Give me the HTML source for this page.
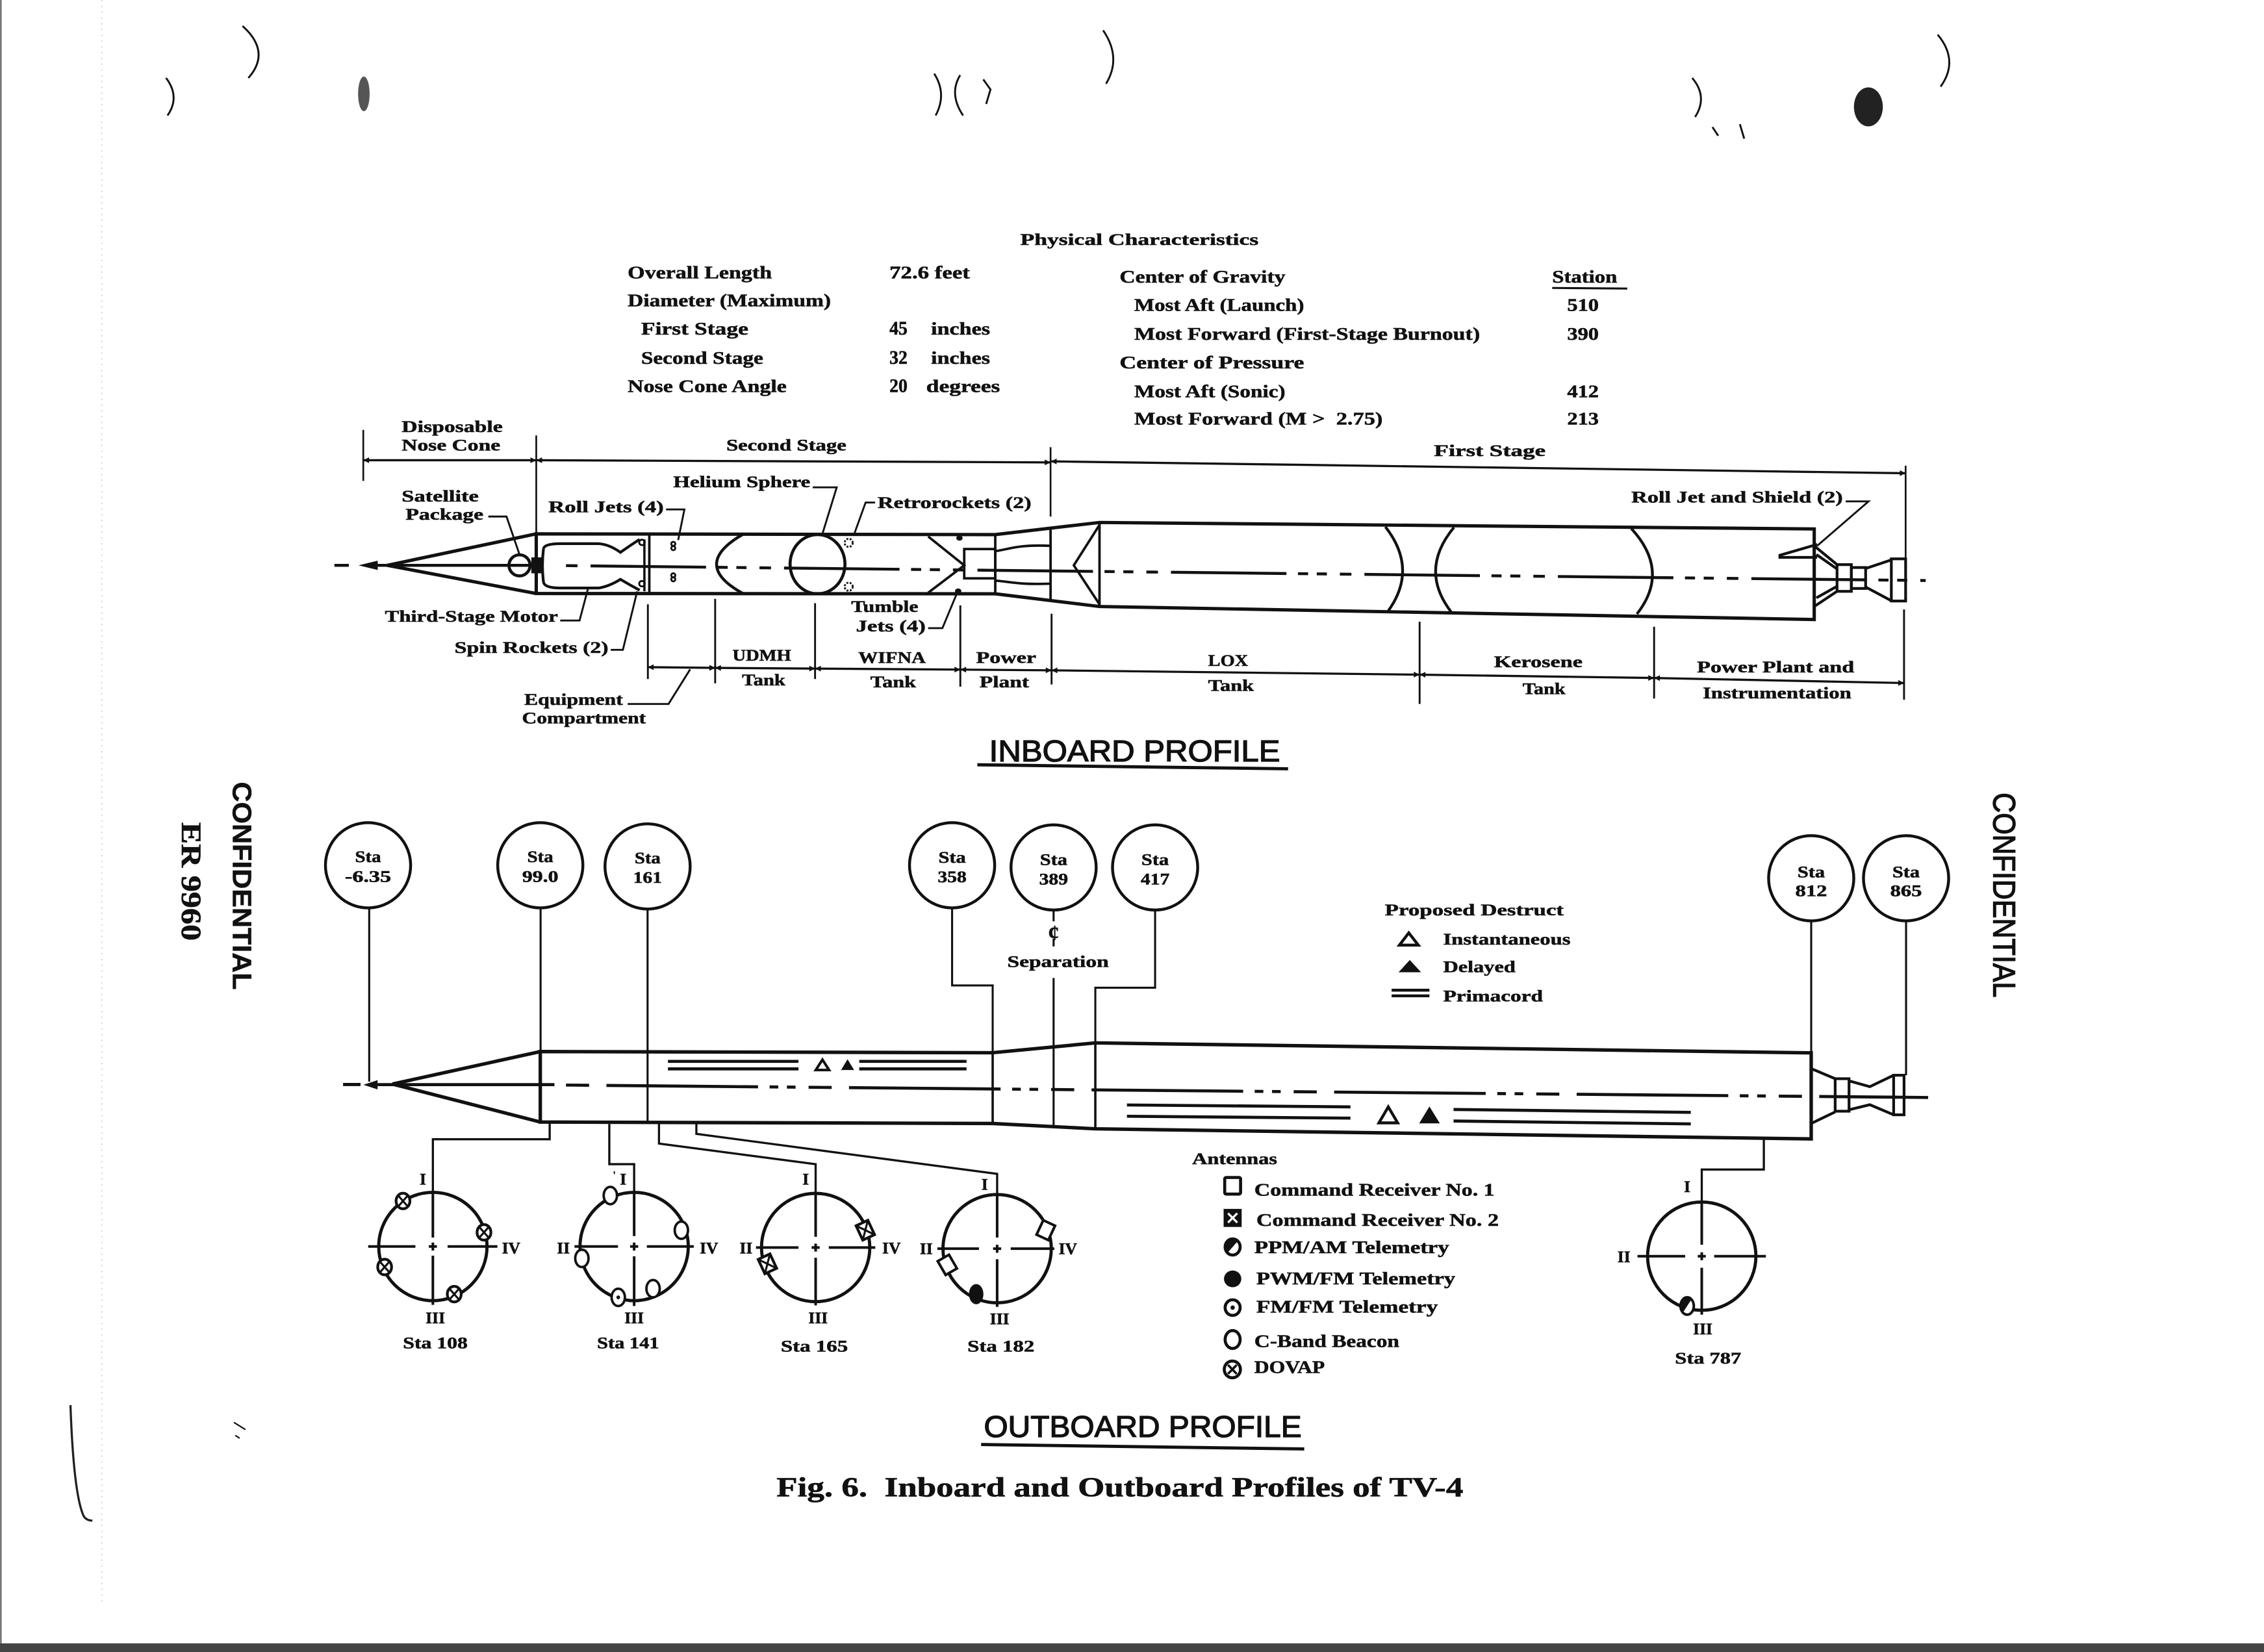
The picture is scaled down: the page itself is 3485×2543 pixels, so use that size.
<!DOCTYPE html>
<html><head><meta charset="utf-8"><style>
html,body{margin:0;padding:0;background:#fff}
svg{display:block}
text{font-family:"Liberation Serif","DejaVu Serif",serif;font-weight:bold;fill:#111;stroke:#111;stroke-width:0.25}
.a{font-size:12.5px}
.b{font-size:11.5px}
.c{font-size:11.5px}
.r{font-size:11.5px;text-anchor:middle}
.ln{stroke:#111;fill:none;stroke-linecap:butt}
</style></head><body>
<svg xmlns="http://www.w3.org/2000/svg" width="3485" height="2543" viewBox="0 0 1568 1144" preserveAspectRatio="none">
<defs>
<marker id="ah" viewBox="0 0 10 10" refX="10" refY="5" markerWidth="7" markerHeight="4" orient="auto-start-reverse" markerUnits="userSpaceOnUse"><path d="M0,0 L10,5 L0,10 z" fill="#111"/></marker>
</defs>
<rect width="1568" height="1144" fill="#fff"/>

<!-- scan artifacts -->
<rect x="0" y="0" width="1.2" height="1144" fill="#777"/>
<line x1="70.5" y1="0" x2="70.5" y2="1110" stroke="#c8c8c8" stroke-width="0.6" stroke-dasharray="1,3"/>
<rect x="0" y="1138" width="1568" height="6" fill="#444"/>
<g class="ln" stroke-width="1.3" stroke="#444">
<path d="M168,18 Q188,36 172,54"/>
<path d="M115,54 Q125,67 116,80"/>
<path d="M764,21 Q777,40 766,58"/>
<path d="M647,51 Q656,65 648,80"/>
<path d="M665,52 Q657,65 667,80"/>
<path d="M681,55 L686,62 L683,72"/>
<path d="M1172,54 Q1183,67 1174,81"/>
<path d="M1342,24 Q1357,42 1344,60"/>
<path d="M1186,88 L1190,94 M1205,86 L1208,96"/>
<path d="M48.8,973 Q51,1035 58,1050 Q60,1053 64,1053" stroke="#222" stroke-width="1.5"/>
<path d="M162,985 L170,990 M163,994 L166,996" stroke-width="1"/>
</g>
<ellipse cx="252" cy="65" rx="4" ry="12" fill="#555"/>
<ellipse cx="1294" cy="74" rx="10" ry="13.5" fill="#222"/>

<!-- side texts -->
<text transform="translate(161.3,541.4) rotate(90)" style="font-family:'Liberation Sans',sans-serif;font-weight:bold;font-size:18.5px" textLength="144" lengthAdjust="spacingAndGlyphs">CONFIDENTIAL</text>
<text transform="translate(126,569.4) rotate(90)" style="font-size:19.5px" textLength="82" lengthAdjust="spacingAndGlyphs">ER 9960</text>
<text transform="translate(1380.5,548.9) rotate(90)" style="font-family:'Liberation Sans',sans-serif;font-weight:normal;font-size:21.5px;stroke-width:0.6" textLength="141.8" lengthAdjust="spacingAndGlyphs">CONFIDENTIAL</text>

<!-- Physical Characteristics -->
<text class="b" x="706.6" y="169.5" textLength="165" lengthAdjust="spacingAndGlyphs">Physical Characteristics</text>
<text class="a" x="434.7" y="192.7" textLength="99.9" lengthAdjust="spacingAndGlyphs">Overall Length</text>
<text class="a" x="616" y="192.7" textLength="55.7" lengthAdjust="spacingAndGlyphs">72.6 feet</text>
<text class="a" x="434.7" y="212.2" textLength="140.8" lengthAdjust="spacingAndGlyphs">Diameter (Maximum)</text>
<text class="a" x="444" y="231.7" textLength="74.3" lengthAdjust="spacingAndGlyphs">First Stage</text>
<text class="a" x="616" y="231.7" style="font-size:13.5px" textLength="12.5" lengthAdjust="spacingAndGlyphs">45</text>
<text class="a" x="644.8" y="231.7" textLength="40.9" lengthAdjust="spacingAndGlyphs">inches</text>
<text class="a" x="444" y="252" textLength="84.6" lengthAdjust="spacingAndGlyphs">Second Stage</text>
<text class="a" x="616" y="252" style="font-size:13.5px" textLength="12.5" lengthAdjust="spacingAndGlyphs">32</text>
<text class="a" x="644.8" y="252" textLength="40.9" lengthAdjust="spacingAndGlyphs">inches</text>
<text class="a" x="434.7" y="271.5" textLength="110.1" lengthAdjust="spacingAndGlyphs">Nose Cone Angle</text>
<text class="a" x="616" y="271.5" style="font-size:13.5px" textLength="12.5" lengthAdjust="spacingAndGlyphs">20</text>
<text class="a" x="641.5" y="271.5" textLength="51.1" lengthAdjust="spacingAndGlyphs">degrees</text>
<text class="a" x="775.4" y="195.7" textLength="114.8" lengthAdjust="spacingAndGlyphs">Center of Gravity</text>
<text class="a" x="1075" y="195.7" textLength="45" lengthAdjust="spacingAndGlyphs">Station</text>
<line class="ln" x1="1075" y1="199.4" x2="1127" y2="199.8" stroke-width="1.4"/>
<text class="a" x="785.6" y="215.2" textLength="117.6" lengthAdjust="spacingAndGlyphs">Most Aft (Launch)</text>
<text class="a" x="1085.4" y="215.2" textLength="21.9" lengthAdjust="spacingAndGlyphs">510</text>
<text class="a" x="785.6" y="235.2" textLength="239.4" lengthAdjust="spacingAndGlyphs">Most Forward (First-Stage Burnout)</text>
<text class="a" x="1085.4" y="235.2" textLength="21.9" lengthAdjust="spacingAndGlyphs">390</text>
<text class="a" x="775.4" y="255" textLength="127.8" lengthAdjust="spacingAndGlyphs">Center of Pressure</text>
<text class="a" x="785.6" y="275.2" textLength="104.6" lengthAdjust="spacingAndGlyphs">Most Aft (Sonic)</text>
<text class="a" x="1085.4" y="275.2" textLength="21.9" lengthAdjust="spacingAndGlyphs">412</text>
<text class="a" x="785.6" y="294" textLength="172" lengthAdjust="spacingAndGlyphs">Most Forward (M &gt;&#160; 2.75)</text>
<text class="a" x="1085.4" y="294" textLength="21.9" lengthAdjust="spacingAndGlyphs">213</text>

<!-- ============ INBOARD PROFILE ============ -->
<g class="ln" stroke-width="1.2">
<path d="M251.6,297.7 V333"/>
<path d="M371.4,301.5 V370"/>
<path d="M727.6,309.7 V357.7"/>
<path d="M1319.8,322.5 V387"/>
</g>
<g class="ln" stroke-width="1.5">
<line x1="251.6" y1="318.7" x2="371.4" y2="318.7" marker-start="url(#ah)" marker-end="url(#ah)"/>
<line x1="371.4" y1="318.7" x2="727.6" y2="320.2" marker-start="url(#ah)" marker-end="url(#ah)"/>
<line x1="727.8" y1="319.5" x2="1319.8" y2="327.7" marker-start="url(#ah)" marker-end="url(#ah)"/>
</g>
<text class="b" x="278.2" y="299.2" textLength="69.9" lengthAdjust="spacingAndGlyphs">Disposable</text>
<text class="b" x="278.2" y="312" textLength="68.3" lengthAdjust="spacingAndGlyphs">Nose Cone</text>
<text class="b" x="503" y="312" textLength="83.2" lengthAdjust="spacingAndGlyphs">Second Stage</text>
<text class="b" x="993.1" y="315.7" textLength="77.3" lengthAdjust="spacingAndGlyphs">First Stage</text>

<!-- body -->
<g class="ln" stroke-width="2.3" stroke-linejoin="miter">
<path d="M371.4,369.7 L268.2,391.5 L371.4,411"/>
<path d="M371.4,369.7 L689.3,370.2 L761.5,361.8 L1256.5,366.3 V429 L761.5,420 L689.3,411.2 L371.4,411 Z"/>
</g>
<g class="ln" stroke-width="1.7">
<path d="M449.7,370 V411"/>
<path d="M689.3,370.2 V411.2"/>
<path d="M727.6,365.6 V415.9"/>
<path d="M761.5,361.8 V420"/>
<path d="M761.5,363.5 L743.7,391.5 L761.5,418.5"/>
</g>
<path d="M231.6,391.5 H241.6" class="ln" stroke-width="2"/>
<polygon points="248.3,391.5 261.6,388.3 261.6,394.7" fill="#111"/>
<path d="M261.6,391.5 H376" class="ln" stroke-width="2"/>
<path d="M392,391.7 L1333.7,402" class="ln" stroke-width="2" stroke-dasharray="8,9,80,8,7,6,7,9"/>

<!-- satellite & third stage -->
<circle cx="359.8" cy="391.5" r="7.3" class="ln" stroke-width="2.1"/>
<rect x="368" y="386" width="8" height="11" fill="#111"/>
<g class="ln" stroke-width="1.9">
<path d="M376.4,380 Q377,376.5 388.1,376.5 L414.7,376.5 Q422,377 429.7,382.5 Q436,378 443,373.5"/>
<path d="M376.4,403 Q377,407.2 388.1,407.2 L414.7,407.2 Q422,406 429.7,401.2 Q436,405 443,408.7"/>
<path d="M376.4,380 Q375,391.5 376.4,403"/>
<path d="M446.3,373.5 V409.5" stroke-width="1.6"/>
</g>
<circle cx="444.6" cy="375.6" r="1.9" class="ln" stroke-width="1.3"/>
<circle cx="444.6" cy="404.2" r="1.9" class="ln" stroke-width="1.3"/>
<g class="ln" stroke-width="1.3">
<circle cx="466.3" cy="376.6" r="1.4"/><circle cx="466.3" cy="379.6" r="1.4"/>
<circle cx="466.3" cy="398.4" r="1.4"/><circle cx="466.3" cy="401.2" r="1.4"/>
</g>
<path d="M514.6,370 Q478,391 514.6,411" class="ln" stroke-width="2"/>
<ellipse cx="566.2" cy="390.7" rx="19" ry="20.5" class="ln" stroke-width="2.1"/>
<circle cx="587.8" cy="375.9" r="2.8" class="ln" stroke-width="1.3" stroke-dasharray="1.3,1"/>
<circle cx="587.8" cy="406.3" r="2.8" class="ln" stroke-width="1.3" stroke-dasharray="1.3,1"/>
<g class="ln" stroke-width="1.7">
<path d="M642.8,371.5 L667.8,391.5 L642.8,410.5"/>
<rect x="667.8" y="380.2" width="21.5" height="20.3"/>
<path d="M689.3,381.7 C700,380 706,377 727.6,378"/>
<path d="M689.3,402 C700,403 706,405 727.6,404.2"/>
</g>
<ellipse cx="664.5" cy="372.6" rx="2.2" ry="1.8" fill="#111"/>
<ellipse cx="663.6" cy="409.3" rx="2.2" ry="1.8" fill="#111"/>
<g class="ln" stroke-width="1.9">
<path d="M959.5,364.8 Q982.3,394 961.5,423"/>
<path d="M1007,365.2 Q982.6,394.5 1005,423.7"/>
<path d="M1129.8,366 Q1157,395.6 1133.7,425.2"/>
</g>
<g class="ln" stroke-width="1.9">
<path d="M1258.5,377 L1232.7,384.5 L1232.7,386 L1258.5,386"/>
<path d="M1256.5,378 L1272.3,391 M1256.5,420 L1272.3,409.5 M1258,384 L1272.3,394 M1258,414 L1272.3,406"/>
<rect x="1272.3" y="391" width="9.9" height="18.5"/>
<rect x="1282.2" y="393" width="9.9" height="14.5"/>
<path d="M1292.1,393.7 L1309.9,387.7 M1292.1,406.5 L1309.9,416"/>
<rect x="1309.9" y="387" width="9.9" height="29.2"/>
</g>

<!-- inboard labels & leaders -->
<text class="b" x="278.2" y="347.2" textLength="53.3" lengthAdjust="spacingAndGlyphs">Satellite</text>
<text class="b" x="280.9" y="360" textLength="53.9" lengthAdjust="spacingAndGlyphs">Package</text>
<text class="b" x="379.8" y="354.7" textLength="79.9" lengthAdjust="spacingAndGlyphs">Roll Jets (4)</text>
<text class="b" x="466.3" y="337.5" textLength="94.9" lengthAdjust="spacingAndGlyphs">Helium Sphere</text>
<text class="b" x="607.8" y="351.7" textLength="106.5" lengthAdjust="spacingAndGlyphs">Retrorockets (2)</text>
<text class="b" x="1129.8" y="348" textLength="146.5" lengthAdjust="spacingAndGlyphs">Roll Jet and Shield (2)</text>
<text class="b" x="266.6" y="430.5" textLength="119.8" lengthAdjust="spacingAndGlyphs">Third-Stage Motor</text>
<text class="b" x="314.8" y="452.2" textLength="106.6" lengthAdjust="spacingAndGlyphs">Spin Rockets (2)</text>
<text class="b" x="589.5" y="423.7" textLength="46.5" lengthAdjust="spacingAndGlyphs">Tumble</text>
<text class="b" x="592.8" y="437.2" textLength="48.3" lengthAdjust="spacingAndGlyphs">Jets (4)</text>
<text class="b" x="363.1" y="488.2" textLength="68.3" lengthAdjust="spacingAndGlyphs">Equipment</text>
<text class="b" x="361.5" y="501" textLength="85.8" lengthAdjust="spacingAndGlyphs">Compartment</text>
<g class="ln" stroke-width="1.3">
<path d="M338.2,357.7 H350.8 L359.8,384"/>
<path d="M461.3,352.8 H474 L469.7,374"/>
<path d="M562.9,337.5 H579.5 L569.5,370"/>
<path d="M606.1,348 H599.5 L591.2,371"/>
<path d="M1278.3,347.2 H1294.1 L1258.5,378"/>
<path d="M388,429.7 H401.4 L407.4,407"/>
<path d="M423,450 H431.4 L441.3,409.5"/>
<path d="M642.8,435 H652.7 L662.7,411"/>
<path d="M434.7,487.5 H463 L478,463.5"/>
</g>

<!-- lower dimension lines -->
<g class="ln" stroke-width="1.3">
<path d="M448.7,418.5 V470.2"/>
<path d="M495.3,414.7 V473.2"/>
<path d="M564.5,417.7 V470.2"/>
<path d="M665.1,419.2 V475.5"/>
<path d="M728.3,425 V474"/>
<path d="M983.2,430.5 V487.5"/>
<path d="M1145.6,434 V483.7"/>
<path d="M1318.7,422 V484.5"/>
</g>
<g class="ln" stroke-width="1.5">
<line x1="448.7" y1="462" x2="495.3" y2="462.5" marker-start="url(#ah)" marker-end="url(#ah)"/>
<line x1="495.3" y1="462.5" x2="564.5" y2="463" marker-start="url(#ah)" marker-end="url(#ah)"/>
<line x1="564.5" y1="463" x2="665.1" y2="463.7" marker-start="url(#ah)" marker-end="url(#ah)"/>
<line x1="665.1" y1="463.7" x2="728.3" y2="464.2" marker-start="url(#ah)" marker-end="url(#ah)"/>
<line x1="728.3" y1="464.2" x2="983.2" y2="467.2" marker-start="url(#ah)" marker-end="url(#ah)"/>
<line x1="983.2" y1="467.2" x2="1145.6" y2="469.5" marker-start="url(#ah)" marker-end="url(#ah)"/>
<line x1="1145.6" y1="469.5" x2="1318.7" y2="473" marker-start="url(#ah)" marker-end="url(#ah)"/>
</g>
<text class="b" x="507.3" y="457.5" textLength="40.6" lengthAdjust="spacingAndGlyphs">UDMH</text>
<text class="b" x="513.9" y="474.7" textLength="30" lengthAdjust="spacingAndGlyphs">Tank</text>
<text class="b" x="594.5" y="459" textLength="46.6" lengthAdjust="spacingAndGlyphs">WIFNA</text>
<text class="b" x="602.8" y="476" textLength="31.6" lengthAdjust="spacingAndGlyphs">Tank</text>
<text class="b" x="676" y="459" textLength="41.6" lengthAdjust="spacingAndGlyphs">Power</text>
<text class="b" x="678.4" y="476" textLength="34.3" lengthAdjust="spacingAndGlyphs">Plant</text>
<text class="b" x="836.7" y="461.2" textLength="27.7" lengthAdjust="spacingAndGlyphs">LOX</text>
<text class="b" x="836.7" y="478.5" textLength="31.7" lengthAdjust="spacingAndGlyphs">Tank</text>
<text class="b" x="1034.7" y="462" textLength="61.3" lengthAdjust="spacingAndGlyphs">Kerosene</text>
<text class="b" x="1054.5" y="480.7" textLength="29.7" lengthAdjust="spacingAndGlyphs">Tank</text>
<text class="b" x="1175.3" y="465.7" textLength="108.9" lengthAdjust="spacingAndGlyphs">Power Plant and</text>
<text class="b" x="1179.3" y="483.7" textLength="102.9" lengthAdjust="spacingAndGlyphs">Instrumentation</text>

<text x="685.1" y="527.2" style="font-family:'Liberation Sans',sans-serif;font-weight:normal;font-size:21px;stroke-width:0.6" textLength="201.5" lengthAdjust="spacingAndGlyphs">INBOARD PROFILE</text>
<line class="ln" x1="676.9" y1="529.6" x2="892.1" y2="532.4" stroke-width="2.2"/>

<!-- ============ OUTBOARD PROFILE ============ -->
<g class="ln" stroke-width="2">
<circle cx="254.9" cy="599.2" r="29.5"/>
<circle cx="374.2" cy="599.2" r="29.5"/>
<circle cx="448.5" cy="600" r="29.5"/>
<circle cx="659.4" cy="599.2" r="29.5"/>
<circle cx="729.7" cy="600.7" r="29.5"/>
<circle cx="800" cy="600.7" r="29.5"/>
<circle cx="1254.4" cy="608.2" r="29.5"/>
<circle cx="1320.1" cy="608.2" r="29.5"/>
</g>
<g class="c" text-anchor="middle">
<text x="254.9" y="597" textLength="18" lengthAdjust="spacingAndGlyphs">Sta</text>
<text x="254.9" y="610.6" textLength="32" lengthAdjust="spacingAndGlyphs">-6.35</text>
<text x="374.2" y="597" textLength="18" lengthAdjust="spacingAndGlyphs">Sta</text>
<text x="374.2" y="610.6" textLength="25" lengthAdjust="spacingAndGlyphs">99.0</text>
<text x="448.5" y="597.8" textLength="18" lengthAdjust="spacingAndGlyphs">Sta</text>
<text x="448.5" y="611.4" textLength="20" lengthAdjust="spacingAndGlyphs">161</text>
<text x="659.4" y="597.5" textLength="19" lengthAdjust="spacingAndGlyphs">Sta</text>
<text x="659.4" y="611" textLength="20" lengthAdjust="spacingAndGlyphs">358</text>
<text x="729.7" y="599" textLength="19" lengthAdjust="spacingAndGlyphs">Sta</text>
<text x="729.7" y="612.5" textLength="20" lengthAdjust="spacingAndGlyphs">389</text>
<text x="800" y="599" textLength="19" lengthAdjust="spacingAndGlyphs">Sta</text>
<text x="800" y="612.5" textLength="20" lengthAdjust="spacingAndGlyphs">417</text>
<text x="1254.4" y="607.5" textLength="19" lengthAdjust="spacingAndGlyphs">Sta</text>
<text x="1254.4" y="620.5" textLength="22" lengthAdjust="spacingAndGlyphs">812</text>
<text x="1320.1" y="607.5" textLength="19" lengthAdjust="spacingAndGlyphs">Sta</text>
<text x="1320.1" y="620.5" textLength="22" lengthAdjust="spacingAndGlyphs">865</text>
</g>
<g class="ln" stroke-width="1.4">
<path d="M255.7,628.7 V749"/>
<path d="M374.4,628.7 V777"/>
<path d="M448.5,629.5 V777.5"/>
<path d="M659.4,628.7 V682.4 H687.5 V778"/>
<path d="M729.7,630.2 V638 M729.7,650 V655.4 M729.7,677.2 V779.5"/>
<path d="M800,630.2 V684 H758.6 V781.7"/>
<path d="M1254.4,637.7 V788.7"/>
<path d="M1320.1,637.7 V744.6"/>
</g>
<text x="729.7" y="651" style="font-size:15px" text-anchor="middle">¢</text>
<text class="b" x="697.6" y="669.7" textLength="70.3" lengthAdjust="spacingAndGlyphs">Separation</text>

<g class="ln" stroke-width="2.4" stroke-linejoin="miter">
<path d="M374.2,728.2 L271.8,750.7 L374.2,777"/>
<path d="M374.2,728.2 L687.5,729 L758.6,722.2 L1254.4,729.1 V788.7 L758.6,781.7 L687.5,778 L374.2,777 Z"/>
</g>
<g class="ln" stroke-width="1.6">
<path d="M687.5,729 V778"/>
<path d="M758.6,722.2 V781.7"/>
</g>
<path d="M237.6,751 H249.7" class="ln" stroke-width="2.2"/>
<polygon points="251.7,751.2 261.5,748 261.5,754.4" fill="#111"/>
<path d="M261.5,751.1 H384" class="ln" stroke-width="2.1"/>
<path d="M392,751.4 L1335.4,760" class="ln" stroke-width="2.1" stroke-dasharray="16,12,105,8,6,6,6,9"/>
<g class="ln" stroke-width="2.1">
<path d="M462.6,735 H553 M462.6,740.2 H553 M595.1,735 H669.4 M595.1,740.2 H669.4"/>
<path d="M780.5,765.2 L935.3,766.5 M780.5,773 L935.3,774.3 M1006.7,768.3 L1171,770.3 M1006.7,776.3 L1171,778.3"/>
</g>
<polygon points="569.6,733.8 565,741 574.2,741" fill="#fff" stroke="#111" stroke-width="1.8"/>
<polygon points="587,733.5 582.5,741 591.5,741" fill="#111"/>
<polygon points="961.5,766.5 955,777.6 968,777.6" fill="#fff" stroke="#111" stroke-width="2"/>
<polygon points="990,766.2 982.9,777.9 997.2,777.9" fill="#111"/>
<g class="ln" stroke-width="1.9">
<path d="M1254.4,740 L1271,747 M1254.4,778 L1271,770"/>
<rect x="1271" y="747" width="9.6" height="22.5"/>
<path d="M1280.6,748.5 L1295,752.5 L1311.5,744.6 M1280.6,768.5 L1295,765 L1311.5,772"/>
<rect x="1311.5" y="744.6" width="7.2" height="27.4"/>
</g>

<text class="b" x="959.1" y="633.8" textLength="123.9" lengthAdjust="spacingAndGlyphs">Proposed Destruct</text>
<polygon points="975.7,646 969.2,654.5 982.3,654.5" fill="#fff" stroke="#111" stroke-width="2"/>
<text class="b" x="999.5" y="654" textLength="88.2" lengthAdjust="spacingAndGlyphs">Instantaneous</text>
<polygon points="976.4,664.8 968.6,673.3 984.2,673.3" fill="#111"/>
<text class="b" x="999.5" y="673.3" textLength="50.1" lengthAdjust="spacingAndGlyphs">Delayed</text>
<path d="M963.8,685.7 H990 M963.8,689.6 H990" class="ln" stroke-width="2"/>
<text class="b" x="999.5" y="693.4" textLength="69.1" lengthAdjust="spacingAndGlyphs">Primacord</text>

<g class="ln" stroke-width="1.5">
<path d="M380.7,777 V788.9 H299.8 V826"/>
<path d="M422,778.4 V806.2 H439.2 V826"/>
<path d="M456.4,777.5 V791.9 L564.9,806.2 V826.9"/>
<path d="M482.3,777.8 V785.2 L690.6,812.9 V827.5"/>
<path d="M1221.6,788.9 V809.9 H1178.6 V832.4"/>
</g>

<g class="ln" stroke-width="2.2">
<circle cx="299.8" cy="863.2" r="37.5"/>
<circle cx="439.2" cy="863.2" r="37.5"/>
<circle cx="564.9" cy="863.9" r="37.5"/>
<circle cx="690.6" cy="864.7" r="37.5"/>
<circle cx="1178.6" cy="869.9" r="37.5"/>
</g>
<g class="ln" stroke-width="1.8">
<path d="M255,863.2 H287.7 M310,863.2 H344.5 M299.8,826 V857 M299.8,869.5 V903.6 M297,863.2 H302.6 M299.8,860.5 V866"/>
<path d="M397.9,863.2 H428 M448,863.2 H480.5 M439.2,826 V856 M439.2,870 V904.4 M436.4,863.2 H442 M439.2,860.5 V866"/>
<path d="M523.6,863.9 H553 M574,863.9 H606.2 M564.9,826.9 V856.5 M564.9,871 V904 M562.1,863.9 H567.7 M564.9,861.2 V866.7"/>
<path d="M649.2,864.7 H678 M700,864.7 H730.2 M690.6,827.5 V857 M690.6,872 V905 M687.8,864.7 H693.4 M690.6,862 V867.5"/>
<path d="M1134.1,869.9 H1167.1 M1187.2,869.9 H1223 M1178.6,832.4 V862 M1178.6,877.9 V910.4 M1175.8,869.9 H1181.4 M1178.6,867.2 V872.7"/>
</g>
<text class="r" x="292.9" y="820.4">I</text>
<text class="r" x="354" y="868">IV</text>
<text class="r" x="301.5" y="916.4">III</text>
<text class="b" x="301.5" y="933.7" text-anchor="middle" textLength="44.8" lengthAdjust="spacingAndGlyphs">Sta 108</text>
<text class="r" x="431.6" y="820.4">I</text>
<text class="r" x="425.5" y="816" style="font-size:7px">'</text>
<text class="r" x="390.2" y="868">II</text>
<text class="r" x="491" y="868">IV</text>
<text class="r" x="439.2" y="916.4">III</text>
<text class="b" x="435" y="933.7" text-anchor="middle" textLength="43" lengthAdjust="spacingAndGlyphs">Sta 141</text>
<text class="r" x="558" y="820.4">I</text>
<text class="r" x="516.7" y="868">II</text>
<text class="r" x="617.4" y="868">IV</text>
<text class="r" x="566.6" y="916.4">III</text>
<text class="b" x="564" y="935.9" text-anchor="middle" textLength="46.5" lengthAdjust="spacingAndGlyphs">Sta 165</text>
<text class="r" x="682" y="824">I</text>
<text class="r" x="641.5" y="868.5">II</text>
<text class="r" x="739.6" y="868.5">IV</text>
<text class="r" x="692.3" y="917">III</text>
<text class="b" x="693.2" y="935.9" text-anchor="middle" textLength="46.4" lengthAdjust="spacingAndGlyphs">Sta 182</text>
<text class="r" x="1168.5" y="825.6">I</text>
<text class="r" x="1124.7" y="874">II</text>
<text class="r" x="1179.3" y="924">III</text>
<text class="b" x="1183" y="944.2" text-anchor="middle" textLength="45.9" lengthAdjust="spacingAndGlyphs">Sta 787</text>

<g stroke="#111" stroke-width="1.9" fill="#fff">
<ellipse cx="279.1" cy="831.7" rx="4.8" ry="5.4"/>
<ellipse cx="335.2" cy="853.4" rx="4.8" ry="5.4"/>
<ellipse cx="266.4" cy="877.4" rx="4.8" ry="5.4"/>
<ellipse cx="314.6" cy="896.2" rx="4.8" ry="5.4"/>
</g>
<g class="ln" stroke-width="1.4">
<path d="M276.2,828.4 L282,835 M282,828.4 L276.2,835"/>
<path d="M332.3,850.1 L338.1,856.7 M338.1,850.1 L332.3,856.7"/>
<path d="M263.5,874.1 L269.3,880.7 M269.3,874.1 L263.5,880.7"/>
<path d="M311.7,892.9 L317.5,899.5 M317.5,892.9 L311.7,899.5"/>
</g>
<g stroke="#111" stroke-width="1.7" fill="#fff">
<ellipse cx="422.7" cy="827.9" rx="4.6" ry="6"/>
<ellipse cx="471.9" cy="851.9" rx="4.6" ry="6"/>
<ellipse cx="403" cy="871.4" rx="4.6" ry="6"/>
<ellipse cx="452.3" cy="892.4" rx="4.6" ry="6"/>
<ellipse cx="428.2" cy="898.4" rx="4.6" ry="6"/>
</g>
<circle cx="428.2" cy="898.4" r="1.3" fill="#111"/>
<g stroke="#111" stroke-width="1.9" fill="#fff">
<g transform="translate(599.3,851.9) rotate(-25)"><rect x="-4.5" y="-5.5" width="9" height="11"/><path d="M-4.5,-5.5 L4.5,5.5 M4.5,-5.5 L-4.5,5.5" stroke-width="1.4"/></g>
<g transform="translate(531.5,875.2) rotate(-25)"><rect x="-4.5" y="-5.5" width="9" height="11"/><path d="M-4.5,-5.5 L4.5,5.5 M4.5,-5.5 L-4.5,5.5" stroke-width="1.4"/></g>
</g>
<g stroke="#111" stroke-width="1.8" fill="#fff">
<rect x="-4.5" y="-5.5" width="9" height="11" transform="translate(724.3,851.9) rotate(25)"/>
<rect x="-4.5" y="-5.5" width="9" height="11" transform="translate(656.1,875.9) rotate(-30)"/>
</g>
<ellipse cx="676.1" cy="896.2" rx="5" ry="7" fill="#111"/>
<ellipse cx="1168.5" cy="904.4" rx="4.6" ry="6" fill="#fff" stroke="#111" stroke-width="1.8"/>
<path d="M1171.5,899.8 L1165.5,909 A4.6,6 0 0 1 1171.5,899.8 Z" fill="#111"/>

<text class="b" x="825.7" y="806.2" textLength="58.8" lengthAdjust="spacingAndGlyphs">Antennas</text>
<rect x="848.2" y="815.4" width="11" height="11.5" rx="1" fill="#fff" stroke="#111" stroke-width="2.1"/>
<text class="a" x="868.7" y="827.9" textLength="166.4" lengthAdjust="spacingAndGlyphs">Command Receiver No. 1</text>
<rect x="848.2" y="837.9" width="11" height="11" fill="#111" stroke="#111" stroke-width="1.5"/>
<path d="M850.5,840.2 L856.9,846.6 M856.9,840.2 L850.5,846.6" stroke="#fff" stroke-width="1.5"/>
<text class="a" x="870.1" y="848.9" textLength="167.9" lengthAdjust="spacingAndGlyphs">Command Receiver No. 2</text>
<ellipse cx="853.7" cy="863.5" rx="5.2" ry="5.6" fill="#fff" stroke="#111" stroke-width="2.1"/>
<path d="M857.3,859.4 L850.1,867.6 A5.2,5.6 0 0 1 857.3,859.4 Z" fill="#111"/>
<text class="a" x="868.7" y="867.7" textLength="134.9" lengthAdjust="spacingAndGlyphs">PPM/AM Telemetry</text>
<ellipse cx="853.7" cy="885.6" rx="6" ry="5.8" fill="#111"/>
<text class="a" x="870.1" y="889.4" textLength="137.8" lengthAdjust="spacingAndGlyphs">PWM/FM Telemetry</text>
<ellipse cx="853.7" cy="905.5" rx="5.2" ry="5.4" fill="#fff" stroke="#111" stroke-width="2.1"/>
<circle cx="853.7" cy="905.5" r="1.5" fill="#111"/>
<text class="a" x="870.1" y="908.9" textLength="125.7" lengthAdjust="spacingAndGlyphs">FM/FM Telemetry</text>
<ellipse cx="853.7" cy="927.6" rx="5.2" ry="6.2" fill="#fff" stroke="#111" stroke-width="2.1"/>
<text class="a" x="868.7" y="932.9" textLength="100.4" lengthAdjust="spacingAndGlyphs">C-Band Beacon</text>
<ellipse cx="853.5" cy="948.3" rx="5.6" ry="5.8" fill="#fff" stroke="#111" stroke-width="2.1"/>
<path d="M850.5,945.2 L856.5,951.4 M856.5,945.2 L850.5,951.4" class="ln" stroke-width="1.6"/>
<text class="a" x="868.7" y="950.9" textLength="48.8" lengthAdjust="spacingAndGlyphs">DOVAP</text>

<text x="681.4" y="995" style="font-family:'Liberation Sans',sans-serif;font-weight:normal;font-size:21px;stroke-width:0.6" textLength="220.1" lengthAdjust="spacingAndGlyphs">OUTBOARD PROFILE</text>
<line class="ln" x1="679.5" y1="1000.3" x2="903.3" y2="1003.4" stroke-width="2.2"/>

<text x="537.8" y="1036.3" style="font-size:19px;stroke-width:0.3" textLength="475.6" lengthAdjust="spacingAndGlyphs">Fig. 6.&#160; Inboard and Outboard Profiles of TV-4</text>
</svg>
</body></html>
